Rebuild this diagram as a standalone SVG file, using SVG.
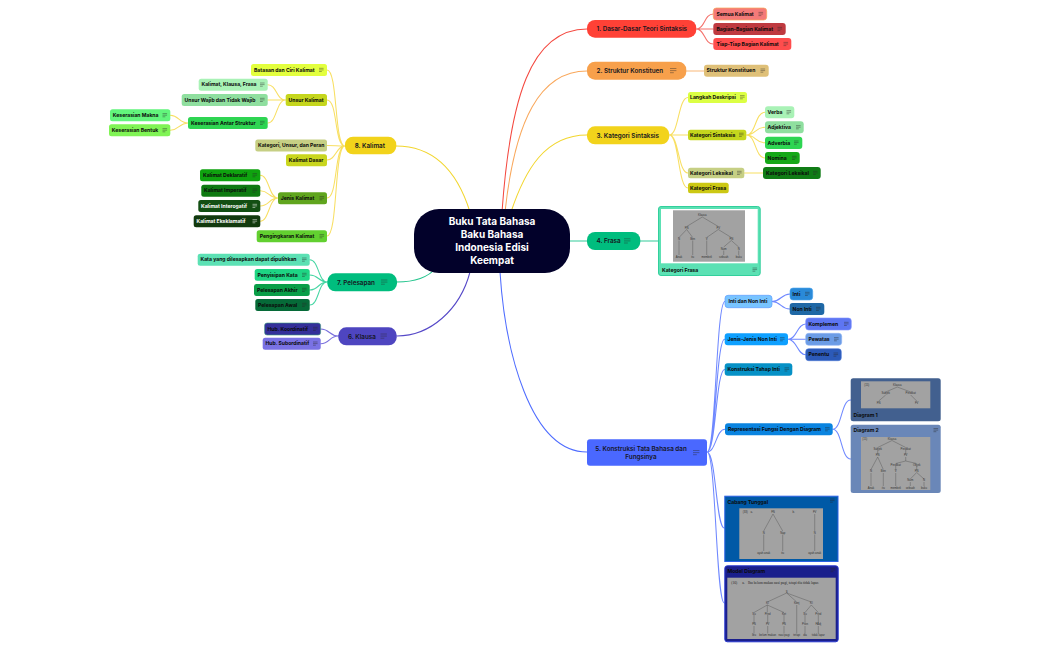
<svg xmlns="http://www.w3.org/2000/svg" width="1050" height="650" viewBox="0 0 1050 650">
<style>
text{font-family:Inter,"Noto Sans","Liberation Sans",sans-serif}
.c path{fill:none;stroke-width:1.05;stroke-linecap:round}
.s{font-size:5.1px;font-weight:700;fill:#0b0b0b}
.w{fill:#fff}
.l{font-size:6.3px;font-weight:600;fill:#16161f}
.h{font-size:10px;font-weight:700;fill:#fff;text-anchor:middle}
.t{font-family:"Liberation Sans",sans-serif;font-size:2.8px;fill:#333;text-anchor:middle}
.g{fill:#a2a2a2}
.tr{fill:none;stroke:#4d4d4d;stroke-width:.4}
.i{fill:none;stroke:#2a2a2a;stroke-opacity:.55;stroke-width:.75}
.iw{stroke:#fff;stroke-opacity:.65}
</style>
<defs>
<path id="ic" d="M0 0h4.6M0 1.6h4.6M0 3.2h2.8"/>
<path id="il" d="M0 0h6.4M0 2.1h6.4M0 4.2h3.8"/>
</defs>
<rect width="1050" height="650" fill="#fff"/>
<g id="connectors" class="c">
<path stroke="#f4483f" d="M502 212C510 100 530 29 587 29"/>
<path stroke="#f9a85c" d="M505 212C515 120 540 71 587 71"/>
<path stroke="#f2d62e" d="M511 212C525 170 545 135 587 135"/>
<path stroke="#33cc9a" d="M570 241H587M640 241H658"/>
<path stroke="#4e6cff" d="M500 272C505 350 530 452 587 452"/>
<path stroke="#5548c8" d="M470 272C460 310 430 336 397 336"/>
<path stroke="#22c48c" d="M436 268C430 275 420 282 397 282"/>
<path stroke="#f2d62e" d="M470 212C460 180 440 146 396 146"/>
<path stroke="#f8df62" d="M345 146C334 146 338 70 327 70M345 146C334 146 338 100 327 100M345 146C336 146 336 145.500 327 145.500M345 146C336 146 336 160 327 160M345 146C334 146 338 198 327 198M345 146C334 146 338 236 327 236M285.700 100C276 100 277 84.700 267.700 84.700M285.700 100H267.700M285.700 100C276 100 277 123 267.700 123M188 123C179 123 179 115.300 170.300 115.300M188 123C179 123 179 130.300 170.300 130.300M278 198C269 198 269 175.300 260.300 175.300M278 198C269 198 269 190.700 260.300 190.700M278 198C269 198 269 206 260.300 206M278 198C269 198 269 221.300 260.300 221.300"/>
<path stroke="#45d6a3" d="M327.300 282C318 282 319 259.700 309.700 259.700M327.300 282C318 282 319 275 309.700 275M327.300 282C318 282 319 290 309.700 290M327.300 282C318 282 319 305 309.700 305"/>
<path stroke="#7a70dd" d="M338.300 336C329 336 330 329 320.700 329M338.300 336C329 336 330 343.700 320.700 343.700"/>
<path stroke="#f4716b" d="M696.300 29C705 29 704 14 713.300 14M696.300 29H713.300M696.300 29C705 29 704 44 713.300 44"/>
<path stroke="#fab778" d="M686.300 71H704"/>
<path stroke="#f8df62" d="M669.300 135C679 135 678 97.500 688 97.500M669.300 135H688M669.300 135C679 135 678 173 688 173M669.300 135C679 135 678 188 688 188M746.300 135C756 135 755 112.300 765 112.300M746.300 135C756 135 755 127.300 765 127.300M746.300 135C756 135 755 142.800 765 142.800M746.300 135C756 135 755 158 765 158M744.300 173H763"/>
<path stroke="#6f88ff" d="M707 452C716 452 716 301.500 725 301.500M707 452C716 452 716 339.300 724.700 339.300M707 452C716 452 716 369.500 724.700 369.500M707 452C716 452 716 429.300 725 429.300M707 452C716 452 716 528 724.300 528M707 452C716 452 716 603 724.300 603M772 301.500C781 301.500 781 294 790 294M772 301.500C781 301.500 781 309 789.700 309M788 339.300C797 339.300 797 324 805.700 324M788 339.300H805.700M788 339.300C797 339.300 797 354.700 805.700 354.700M832.700 429.300C842 429.300 841 400 850.700 400M832.700 429.300C842 429.300 841 459 850.700 459"/>
</g>
<g id="root"><rect x="414" y="209" width="156" height="64" rx="25" fill="#02012a"/>
<text class="h" x="492" y="225">Buku Tata Bahasa</text><text class="h" x="492" y="238">Baku Bahasa</text><text class="h" x="492" y="251">Indonesia Edisi</text><text class="h" x="492" y="264">Keempat</text></g>

<g id="n1"><rect x="587" y="20" width="109.300" height="17.700" rx="8" fill="#ff4136"/><text class="l" x="596.500" y="31.100">1. Dasar-Dasar Teori Sintaksis</text></g>
<g id="n1a"><rect x="713.300" y="8" width="53.400" height="12" rx="3" fill="#f47a78" stroke="#f8a75a" stroke-width=".7"/><text class="s" x="716.500" y="15.700">Semua Kalimat</text><use href="#ic" class="i" x="758.500" y="12.400"/></g>
<g id="n1b"><rect x="713.300" y="23" width="72.400" height="12" rx="3" fill="#bf3a40"/><text class="s" x="716.500" y="30.700">Bagian-Bagian Kalimat</text><use href="#ic" class="i" x="777.500" y="27.400"/></g>
<g id="n1c"><rect x="713.300" y="38" width="78" height="12" rx="3" fill="#ff4d4d"/><text class="s" x="716.500" y="45.700">Tiap-Tiap Bagian Kalimat</text><use href="#ic" class="i" x="783.500" y="42.400"/></g>

<g id="n2"><rect x="587" y="61.700" width="99.300" height="18" rx="8" fill="#f7a04b"/><text class="l" x="596.500" y="73">2. Struktur Konstituen</text><use href="#il" class="i" x="670" y="68.500"/></g>
<g id="n2a"><rect x="704" y="64.700" width="64.700" height="12" rx="3" fill="#dfc078"/><text class="s" x="706.500" y="72.400">Struktur Konstituen</text><use href="#ic" class="i" x="760.500" y="69"/></g>

<g id="n3"><rect x="587" y="126.300" width="82.300" height="18" rx="8" fill="#f2d31b"/><text class="l" x="596.500" y="137.600">3. Kategori Sintaksis</text></g>
<g id="n3a"><rect x="688" y="92" width="59" height="11" rx="2.500" fill="#dcff44"/><text class="s" x="690" y="99.300">Langkah Deskripsi</text><use href="#ic" class="i" x="740" y="95.600"/></g>
<g id="n3b"><rect x="688" y="129.700" width="58.300" height="10.600" rx="2.500" fill="#c5d61d"/><text class="s" x="690" y="136.800">Kategori Sintaksis</text><use href="#ic" class="i" x="739" y="133.200"/></g>
<g id="n3b1"><rect x="765" y="106.300" width="29.300" height="12" rx="3" fill="#a9f2b6"/><text class="s" x="767.500" y="114">Verba</text><use href="#ic" class="i" x="786.500" y="110.600"/></g>
<g id="n3b2"><rect x="765" y="121.300" width="38.700" height="12" rx="3" fill="#8fdf9f"/><text class="s" x="767.500" y="129">Adjektiva</text><use href="#ic" class="i" x="796" y="125.600"/></g>
<g id="n3b3"><rect x="765" y="136.700" width="37.300" height="12.300" rx="3" fill="#2ed552"/><text class="s" x="767.500" y="144.500">Adverbia</text><use href="#ic" class="i" x="794" y="141"/></g>
<g id="n3b4"><rect x="765" y="152" width="34.700" height="12" rx="3" fill="#15a818"/><text class="s" x="767.500" y="159.700">Nomina</text><use href="#ic" class="i" x="792" y="156.300"/></g>
<g id="n3c"><rect x="688" y="167.700" width="56.300" height="10.600" rx="2.500" fill="#c6cf84"/><text class="s" x="690" y="174.800">Kategori Leksikal</text><use href="#ic" class="i" x="737" y="171.300"/></g>
<g id="n3c1"><rect x="763" y="167" width="57.700" height="12" rx="3" fill="#107c16"/><text class="s" x="766" y="174.700">Kategori Leksikal</text><use href="#ic" class="i" x="813" y="171.300"/></g>
<g id="n3d"><rect x="688" y="182.700" width="40.700" height="10.600" rx="2.500" fill="#ccc814"/><text class="s" x="690" y="189.800">Kategori Frasa</text></g>

<g id="n4"><rect x="587" y="232" width="53.300" height="18" rx="8" fill="#00bd7e"/><text class="l" x="596.500" y="243.300">4. Frasa</text><use href="#il" class="i" x="624" y="238.800"/></g>
<g id="n4a"><rect x="658.500" y="206.500" width="101.700" height="69" rx="2.500" fill="#5ce1b4" stroke="#32d09c"/><rect x="661" y="209" width="96.700" height="54.300" fill="#fff"/><rect x="673" y="210.300" width="72" height="51.400" class="g"/>
<path class="tr" d="M702.300 217L686.700 226.500M702.300 217L718.300 226.500M686.700 229.500L679 237.500M686.700 229.500L692.700 237.500M718.300 229.500L706.700 237.500M718.300 229.500L731.300 237.500M731.300 240.500L723.700 247M731.300 240.500L738.700 247M679 240.500V255M692.700 240.500V255M706.700 240.500V255M723.700 250.500V255M738.700 250.500V255"/>
<text class="t" x="702.300" y="216">Klausa</text><text class="t" x="686.700" y="229">FN</text><text class="t" x="718.300" y="229">FV</text><text class="t" x="679" y="240">N</text><text class="t" x="692.700" y="240">Ben</text><text class="t" x="706.700" y="240">V</text><text class="t" x="731.300" y="240">FN</text><text class="t" x="723.700" y="250">Num</text><text class="t" x="738.700" y="250">N</text><text class="t" x="679" y="258">Anak</text><text class="t" x="692.700" y="258">itu</text><text class="t" x="706.700" y="258">membeli</text><text class="t" x="723.700" y="258">sebuah</text><text class="t" x="738.700" y="258">buku</text>
<text class="s" x="662" y="271.500">Kategori Frasa</text><use href="#ic" class="i" x="752.500" y="268"/></g>

<g id="n5"><rect x="587" y="439.300" width="120" height="26.400" rx="3" fill="#4a68ff"/><text class="l" text-anchor="middle" x="641" y="450.500">5. Konstruksi Tata Bahasa dan</text><text class="l" text-anchor="middle" x="641" y="459.300">Fungsinya</text><use href="#il" class="i" x="693" y="450.500"/></g>
<g id="n5a"><rect x="725" y="295.300" width="47" height="12.400" rx="3" fill="#78c4ff" stroke="#5e9cff" stroke-width=".7"/><text class="s" x="728.500" y="303.300">Inti dan Non Inti</text></g>
<g id="n5a1"><rect x="790" y="288" width="22.700" height="12" rx="3" fill="#2a8ad8" stroke="#4aa6f0" stroke-width=".6"/><text class="s" x="792.500" y="295.700">Inti</text><use href="#ic" class="i" x="805" y="292.300"/></g>
<g id="n5a2"><rect x="789.700" y="303" width="34.600" height="12" rx="3" fill="#1f68a6"/><text class="s" x="792.500" y="310.700">Non Inti</text><use href="#ic" class="i" x="816" y="307.300"/></g>
<g id="n5b"><rect x="724.700" y="333.300" width="63.300" height="12" rx="3" fill="#0ea0ff"/><text class="s" x="727.500" y="341">Jenis-Jenis Non Inti</text><use href="#ic" class="i" x="780" y="337.600"/></g>
<g id="n5b1"><rect x="805.700" y="318" width="45.600" height="12" rx="3" fill="#5e76f2" stroke="#7d92ff" stroke-width=".6"/><text class="s" x="808.500" y="325.700">Komplemen</text><use href="#ic" class="i" x="844" y="322.300"/></g>
<g id="n5b2"><rect x="805.700" y="333.300" width="36" height="12" rx="3" fill="#6b9ce6" stroke="#8fb4f4" stroke-width=".6"/><text class="s" x="808.500" y="341">Pewatas</text><use href="#ic" class="i" x="834" y="337.600"/></g>
<g id="n5b3"><rect x="805.700" y="348.700" width="35.600" height="12" rx="3" fill="#2c5ab8" stroke="#4a78d8" stroke-width=".6"/><text class="s" x="808.500" y="356.400">Penentu</text><use href="#ic" class="i" x="833.500" y="353"/></g>
<g id="n5c"><rect x="724.700" y="363.300" width="67.600" height="12.400" rx="3" fill="#0691c6"/><text class="s" x="727.500" y="371.200">Konstruksi Tahap Inti</text><use href="#ic" class="i" x="784.500" y="367.800"/></g>
<g id="n5d"><rect x="725" y="423.300" width="107.700" height="12" rx="3" fill="#0a84e0"/><text class="s" x="728" y="431">Representasi Fungsi Dengan Diagram</text><use href="#ic" class="i" x="825" y="427.600"/></g>
<g id="n5d1"><rect x="850.700" y="378.300" width="90" height="43" rx="2.500" fill="#42608f"/><rect x="861" y="381.300" width="69.300" height="27" class="g"/>
<path class="tr" d="M897.300 387L885.700 392M897.300 387L910.700 392M885.700 395L878.700 401M910.700 395L916.700 401"/>
<text class="t" x="866.700" y="386">(15)</text><text class="t" x="897.300" y="386">Klausa</text><text class="t" x="885.700" y="394">Subjek</text><text class="t" x="910.700" y="394">Predikat</text><text class="t" x="878.700" y="403.500">FN</text><text class="t" x="916.700" y="403.500">FV</text>
<text class="s" x="853.500" y="416.800">Diagram 1</text></g>
<g id="n5d2"><rect x="850.700" y="424.700" width="90" height="68.300" rx="2.500" fill="#6a87b8"/><rect x="861" y="437" width="69.300" height="53" class="g"/>
<path class="tr" d="M892 440.500L877.700 447.500M892 440.500L905.700 447.500M877.700 450V454M905.700 450V454M877.700 457L871 469.500M877.700 457L883.300 469.500M905.700 457V461L895.700 463.500M905.700 461L916.700 463.500M895.700 466V470M916.700 466V470M916.700 472.500L910.300 479M916.700 472.500L924 479M871 473V486M883.300 473V486M895.700 473V486M910.300 482V486M924 482V486"/>
<text class="t" x="864.700" y="440">(15)</text><text class="t" x="892" y="440">Klausa</text><text class="t" x="877.700" y="449.500">Subjek</text><text class="t" x="905.700" y="449.500">Predikat</text><text class="t" x="877.700" y="456">FN</text><text class="t" x="905.700" y="456">FV</text><text class="t" x="895.700" y="465.500">Predikat</text><text class="t" x="916.700" y="465.500">Objek</text><text class="t" x="871" y="472">N</text><text class="t" x="883.300" y="472">Ben</text><text class="t" x="895.700" y="472">V</text><text class="t" x="916.700" y="472">FN</text><text class="t" x="910.300" y="481">Num</text><text class="t" x="924" y="481">N</text><text class="t" x="871" y="488.500">Anak</text><text class="t" x="883.300" y="488.500">itu</text><text class="t" x="895.700" y="488.500">membeli</text><text class="t" x="910.300" y="488.500">sebuah</text><text class="t" x="924" y="488.500">buku</text>
<text class="s" x="853.500" y="431.800">Diagram 2</text><use href="#ic" class="i" x="933.500" y="428.500"/></g>
<g id="n5e"><rect x="724.800" y="496.200" width="113.200" height="65.300" fill="#0059a6" stroke="#2a62e6"/><rect x="739.300" y="508.300" width="83.700" height="50.700" class="g"/>
<path class="tr" d="M773 514L763.700 531M773 514L782.700 531M814.700 514V531M763.700 534.500V551M782.700 534.500V551M814.700 534.500V551"/>
<text class="t" x="745.300" y="513.200">(33)</text><text class="t" x="751.700" y="513.200">a.</text><text class="t" x="773" y="513.200">FN</text><text class="t" x="793.700" y="513.200">b.</text><text class="t" x="814.700" y="513.200">FV</text><text class="t" x="763.700" y="533.500">N</text><text class="t" x="782.700" y="533.500">Nap</text><text class="t" x="814.700" y="533.500">N</text><text class="t" x="763.700" y="553.500">ayah anak</text><text class="t" x="782.700" y="553.500">itu</text><text class="t" x="814.700" y="553.500">ayah anak</text>
<text class="s" x="727.500" y="503.500">Cabang Tunggal</text><use href="#ic" class="i" x="830" y="499"/></g>
<g id="n5f"><rect x="724.800" y="565.800" width="113.400" height="76" rx="2.500" fill="#1a1f8c" stroke="#2a3ad0"/><rect x="727.300" y="577.700" width="108.400" height="61.300" class="g"/>
<path class="tr" d="M786.700 593L767.300 602M786.700 593L796.700 602M786.700 593L811.300 602M767.300 605L754 612.500M767.300 605V612.500M767.300 605L784 612.500M811.300 605L805 612.500M811.300 605L818.300 612.500M754 615V623M767.700 615V623M784 615V623M805 615V623M818.300 615V623M754 626V633.500M767.700 626V633.500M784 626V633.500M805 626V633.500M818.300 626V633.500M796.700 605V633.500"/>
<text x="734.300" y="584.400" style="font-family:'Liberation Serif',serif;font-size:3.600px" fill="#222" text-anchor="middle">(16)</text><text x="743.500" y="584.400" style="font-family:'Liberation Serif',serif;font-size:3.600px" fill="#222" text-anchor="middle">a.</text><text x="748" y="584.400" style="font-family:'Liberation Serif',serif;font-size:3.600px" fill="#222">Ibu belum makan nasi pagi, tetapi dia tidak lapar.</text>
<text class="t" x="786.700" y="592.500">S</text><text class="t" x="767.300" y="604">Kl</text><text class="t" x="796.700" y="604">Konj</text><text class="t" x="811.300" y="604">Kl</text><text class="t" x="754" y="614.500">Su</text><text class="t" x="767.700" y="614.500">Pred</text><text class="t" x="784" y="614.500">Ket</text><text class="t" x="805" y="614.500">Su</text><text class="t" x="818.300" y="614.500">Pred</text><text class="t" x="754" y="625">FN</text><text class="t" x="767.700" y="625">FV</text><text class="t" x="784" y="625">FN</text><text class="t" x="805" y="625">Pron</text><text class="t" x="818.300" y="625">FAdj</text><text class="t" x="754" y="636">Ibu</text><text class="t" x="767.700" y="636">belum makan</text><text class="t" x="784" y="636">nasi pagi</text><text class="t" x="796.700" y="636">tetapi</text><text class="t" x="805" y="636">dia</text><text class="t" x="818.300" y="636">tidak lapar</text>
<text class="s" x="727.500" y="572.800">Model Diagram</text><use href="#ic" class="i" x="830.500" y="568.500"/></g>

<g id="n6"><rect x="338.300" y="327.300" width="58.400" height="18" rx="8" fill="#4e45c0"/><text class="l" x="348" y="338.600">6. Klausa</text><use href="#il" class="i" x="380.500" y="334"/></g>
<g id="n6a"><rect x="264.600" y="323" width="56" height="12" rx="2.500" fill="#34309a" stroke="#3c9a7a" stroke-width=".6"/><text class="s" x="267.500" y="330.800">Hub. Koordinatif</text><use href="#ic" class="i" x="313" y="327.300"/></g>
<g id="n6b"><rect x="262.700" y="337.700" width="58" height="12" rx="2.500" fill="#7a72e4"/><text class="s" x="265.500" y="345.400">Hub. Subordinatif</text><use href="#ic" class="i" x="313" y="342"/></g>

<g id="n7"><rect x="327.300" y="273.300" width="69.700" height="18" rx="8" fill="#00bd7e"/><text class="l" x="337" y="284.600">7. Pelesapan</text><use href="#il" class="i" x="381" y="280"/></g>
<g id="n7a"><rect x="197.700" y="253.700" width="112" height="12" rx="2.500" fill="#5ce1b4"/><text class="s" x="200.500" y="261.400">Kata yang dilesapkan dapat dipulihkan</text><use href="#ic" class="i" x="302" y="258"/></g>
<g id="n7b"><rect x="254.700" y="269" width="55" height="11.700" rx="2.500" fill="#1ed584"/><text class="s" x="257.500" y="276.600">Penyisipan Kata</text><use href="#ic" class="i" x="302" y="273.300"/></g>
<g id="n7c"><rect x="254" y="284" width="55.700" height="12" rx="2.500" fill="#0a9e48"/><text class="s" x="257" y="291.700">Pelesapan Akhir</text><use href="#ic" class="i" x="302" y="288.300"/></g>
<g id="n7d"><rect x="255.300" y="299" width="54.400" height="12" rx="2.500" fill="#066a38"/><text class="s" x="258" y="306.700">Pelesapan Awal</text><use href="#ic" class="i" x="302" y="303.300"/></g>

<g id="n8"><rect x="345" y="136.700" width="51.300" height="17.600" rx="8" fill="#f2d31b"/><text class="l" x="354.700" y="147.800">8. Kalimat</text></g>
<g id="n8a"><rect x="251" y="64" width="76" height="12" rx="2.500" fill="#e3ff3e"/><text class="s" x="254" y="71.700">Batasan dan Ciri Kalimat</text><use href="#ic" class="i" x="319" y="68.300"/></g>
<g id="n8b"><rect x="285.700" y="94" width="41.300" height="12" rx="2.500" fill="#c5d61d"/><text class="s" x="288.500" y="101.700">Unsur Kalimat</text></g>
<g id="n8b1"><rect x="198.700" y="78.700" width="69" height="12" rx="2.500" fill="#a9f2b6"/><text class="s" x="201.500" y="86.400">Kalimat, Klausa, Frasa</text><use href="#ic" class="i" x="260" y="83"/></g>
<g id="n8b2"><rect x="181.700" y="94" width="86" height="12" rx="2.500" fill="#8fdf9f"/><text class="s" x="184.500" y="101.700">Unsur Wajib dan Tidak Wajib</text><use href="#ic" class="i" x="260" y="98.300"/></g>
<g id="n8b3"><rect x="188" y="117" width="79.700" height="12" rx="2.500" fill="#2ed552"/><text class="s" x="191" y="124.700">Keserasian Antar Struktur</text><use href="#ic" class="i" x="260" y="121.300"/></g>
<g id="n8b3a"><rect x="110" y="109.300" width="60.300" height="12" rx="2.500" fill="#62f57c"/><text class="s" x="112.800" y="117">Keserasian Makna</text><use href="#ic" class="i" x="162.500" y="113.600"/></g>
<g id="n8b3b"><rect x="109" y="124.300" width="61.300" height="12" rx="2.500" fill="#80f455"/><text class="s" x="111.800" y="132">Keserasian Bentuk</text><use href="#ic" class="i" x="162.500" y="128.600"/></g>
<g id="n8c"><rect x="255.300" y="139.500" width="71.700" height="12" rx="2.500" fill="#c6cf84"/><text class="s" x="258" y="147.200">Kategori, Unsur, dan Peran</text></g>
<g id="n8d"><rect x="286" y="154.300" width="41" height="12" rx="2.500" fill="#c9d61e"/><text class="s" x="288.800" y="162">Kalimat Dasar</text></g>
<g id="n8e"><rect x="278" y="192.300" width="49" height="12" rx="2.500" fill="#60a51e"/><text class="s" x="280.800" y="200">Jenis Kalimat</text><use href="#ic" class="i" x="319.500" y="196.600"/></g>
<g id="n8e1"><rect x="200" y="169.300" width="60.300" height="12" rx="2.500" fill="#0fa30f"/><text class="s" x="203" y="177">Kalimat Deklaratif</text><use href="#ic" class="i" x="252.500" y="173.600"/></g>
<g id="n8e2"><rect x="201.300" y="184.700" width="59" height="12" rx="2.500" fill="#0f7a12"/><text class="s" x="204" y="192.400">Kalimat Imperatif</text><use href="#ic" class="i" x="252.500" y="189"/></g>
<g id="n8e3"><rect x="198.300" y="200" width="62" height="12" rx="2.500" fill="#134f13"/><text class="s w" x="201" y="207.700">Kalimat Interogatif</text><use href="#ic" class="i iw" x="252.500" y="204.300"/></g>
<g id="n8e4"><rect x="193.700" y="215.300" width="66.600" height="12" rx="2.500" fill="#123a0e"/><text class="s w" x="196.500" y="223">Kalimat Eksklamatif</text><use href="#ic" class="i iw" x="252.500" y="219.600"/></g>
<g id="n8f"><rect x="256.700" y="230.300" width="70.300" height="12" rx="2.500" fill="#62d030"/><text class="s" x="259.800" y="238">Pengingkaran Kalimat</text><use href="#ic" class="i" x="319.500" y="234.600"/></g>
</svg>
